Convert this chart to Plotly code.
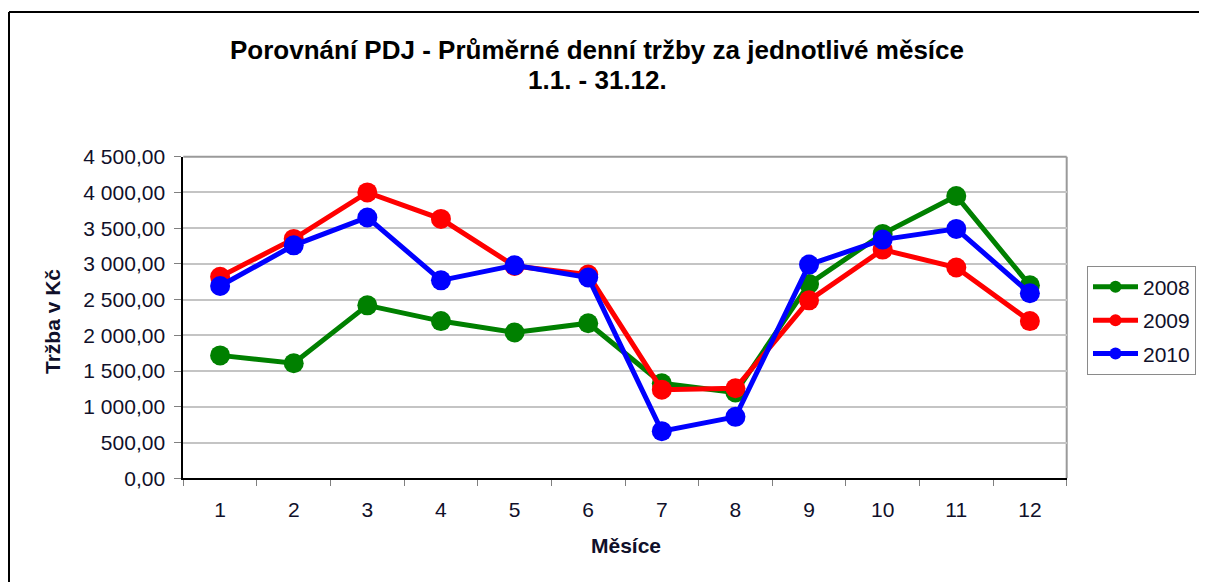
import plotly.graph_objects as go

months = ["1", "2", "3", "4", "5", "6", "7", "8", "9", "10", "11", "12"]
series_names = ["2008", "2009", "2010"]
vals_2008 = [1720, 1610, 2420, 2200, 2040, 2170, 1330, 1200, 2720, 3420, 3950, 2700]
vals_2009 = [2820, 3350, 4000, 3630, 2970, 2850, 1240, 1260, 2490, 3200, 2950, 2200]
vals_2010 = [2690, 3260, 3650, 2770, 2980, 2810, 660, 860, 2990, 3340, 3490, 2590]
colors = ["#008000", "#FF0000", "#0000FF"]

OFF = 8  # default page body margin
W, H = 1207 - OFF, 582 - OFF


def xp(x):
    return (x - OFF) / W


def yp(y):
    return 1 - (y - OFF) / H


px_l, px_r, px_t, px_b = 183.3, 1066.7, 156.7, 478.3

fig = go.Figure()
for i, (name, vals) in enumerate(zip(series_names, [vals_2008, vals_2009, vals_2010])):
    fig.add_trace(go.Scatter(
        x=months, y=vals, name=name, mode="lines+markers",
        line=dict(color=colors[i], width=5),
        marker=dict(color=colors[i], size=20),
        legendgroup=name,
    ))

font_main = "Liberation Sans, Arial, sans-serif"
tick_font = dict(family=font_main, size=21, color="#10102a")

fig.update_layout(
    width=W, height=H,
    margin=dict(l=0, r=0, t=0, b=0, autoexpand=False),
    paper_bgcolor="white", plot_bgcolor="white",
    separators=", ",
    showlegend=True,
    legend=dict(
        x=xp(1087), y=yp(265.7), xanchor="left", yanchor="top",
        bordercolor="#8a8a8a", borderwidth=1,
        font=dict(family=font_main, size=21, color="#10102a"),
        tracegroupgap=3,
        itemwidth=45,
        itemsizing="constant",
    ),
    xaxis=dict(
        domain=[xp(px_l), xp(px_r)],
        type="category",
        range=[-0.5, len(months) - 0.5],
        tickson="boundaries",
        ticks="outside", ticklen=6, tickwidth=1, tickcolor="#808080",
        ticklabelstandoff=11,
        showgrid=False,
        showline=True, linecolor="#000000", linewidth=2,
        tickfont=tick_font,
        automargin=False,
    ),
    yaxis=dict(
        domain=[yp(px_b), yp(px_t)],
        range=[0, 4500], dtick=500, tick0=0,
        tickformat=",.2f",
        ticks="outside", ticklen=7, tickwidth=1, tickcolor="#808080",
        ticklabelstandoff=5,
        showgrid=True, gridcolor="#c4c4c4", gridwidth=2,
        showline=True, linecolor="#000000", linewidth=2,
        tickfont=tick_font,
        zeroline=False,
        automargin=False,
    ),
)

# plot area top/right border (gray)
fig.add_shape(type="line", xref="paper", yref="paper",
              x0=xp(px_l), x1=xp(px_r), y0=yp(px_t), y1=yp(px_t),
              line=dict(color="#9a9a9a", width=2), layer="below")
fig.add_shape(type="line", xref="paper", yref="paper",
              x0=xp(px_r), x1=xp(px_r), y0=yp(px_t), y1=yp(px_b),
              line=dict(color="#9a9a9a", width=2), layer="below")

# outer frame (left and top)
fig.add_shape(type="line", xref="paper", yref="paper",
              x0=xp(9), x1=xp(9), y0=0, y1=yp(12),
              line=dict(color="#000000", width=2))
fig.add_shape(type="line", xref="paper", yref="paper",
              x0=xp(9), x1=1, y0=yp(12), y1=yp(12),
              line=dict(color="#000000", width=2))

# titles
fig.add_annotation(text="Porovnání PDJ - Průměrné denní tržby za jednotlivé měsíce",
                   xref="paper", yref="paper", x=xp(597), y=yp(50),
                   showarrow=False, xanchor="center", yanchor="middle",
                   font=dict(family=font_main, size=26, color="#000000", weight="bold"))
fig.add_annotation(text="1.1. - 31.12.",
                   xref="paper", yref="paper", x=xp(597), y=yp(80),
                   showarrow=False, xanchor="center", yanchor="middle",
                   font=dict(family=font_main, size=26, color="#000000", weight="bold"))
fig.add_annotation(text="Měsíce",
                   xref="paper", yref="paper", x=xp(626), y=yp(545),
                   showarrow=False, xanchor="center", yanchor="middle",
                   font=dict(family=font_main, size=21, color="#10102a", weight="bold"))
fig.add_annotation(text="Tržba v Kč",
                   xref="paper", yref="paper", x=xp(53), y=yp(322),
                   showarrow=False, xanchor="center", yanchor="middle", textangle=-90,
                   font=dict(family=font_main, size=21, color="#10102a", weight="bold"))

fig.write_html("out.html")
